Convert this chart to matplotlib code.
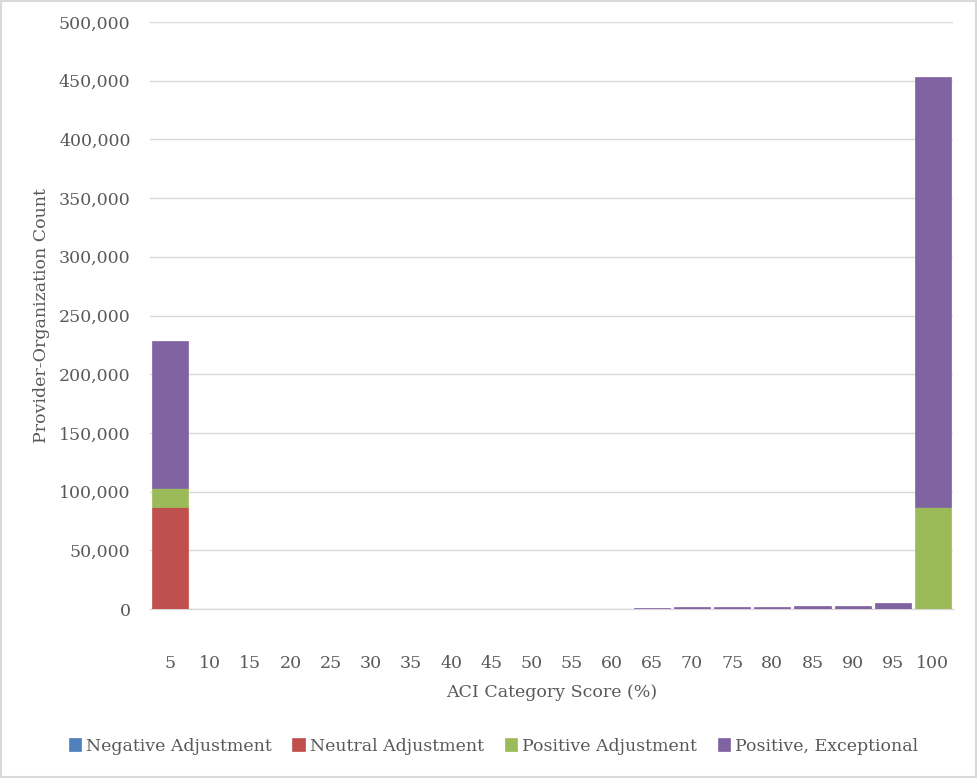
import matplotlib
matplotlib.use('Agg')
import matplotlib.pyplot as plt
from matplotlib.patches import Rectangle
import numpy as np

# ACI category score bins and counts per payment adjustment group
scores = [5, 10, 15, 20, 25, 30, 35, 40, 45, 50, 55, 60, 65, 70, 75, 80, 85, 90, 95, 100]
negative = [0] * 20
neutral = [87000, 0, 0, 0, 0, 0, 0, 0, 0, 0, 0, 0, 0, 0, 0, 0, 0, 0, 0, 0]
positive = [16000, 0, 0, 0, 0, 0, 0, 0, 0, 0, 0, 0, 0, 0, 0, 0, 0, 0, 0, 87000]
exceptional = [125000, 100, 100, 100, 100, 200, 300, 200, 200, 200, 300, 300,
               900, 1400, 1400, 2000, 2800, 2900, 4800, 366000]

series = [
    ('Negative Adjustment', negative, '#4f81bd'),
    ('Neutral Adjustment', neutral, '#c0504d'),
    ('Positive Adjustment', positive, '#9bbb59'),
    ('Positive, Exceptional', exceptional, '#8064a2'),
]

plt.rcParams['font.family'] = ['DejaVu Serif']
text_color = '#595959'
grid_color = '#d9d9d9'

fig = plt.figure(figsize=(9.77, 7.78), dpi=100)
ax = fig.add_axes([0.1535, 0.2172, 0.8219, 0.7545])

x = np.arange(len(scores))
bottom = np.zeros(len(scores))
for name, vals, color in series:
    vals = np.array(vals, dtype=float)
    ax.bar(x, vals, width=0.9, bottom=bottom, color=color, label=name,
           edgecolor=color, linewidth=0.5, zorder=3)
    bottom += vals

ax.set_xlim(-0.5, len(scores) - 0.5)
ax.set_ylim(0, 500000)
ax.set_yticks(np.arange(0, 500001, 50000))
ax.yaxis.set_major_formatter(matplotlib.ticker.FuncFormatter(lambda v, p: f'{int(v):,}'))
ax.set_xticks(x)
ax.set_xticklabels([str(s) for s in scores])

ax.grid(axis='y', color=grid_color, linewidth=1, zorder=0)
for side in ['top', 'right', 'left']:
    ax.spines[side].set_visible(False)
ax.spines['bottom'].set_color(grid_color)
ax.spines['bottom'].set_linewidth(1)
ax.tick_params(axis='both', length=0, labelsize=12.5, colors=text_color)
ax.tick_params(axis='x', pad=33)
ax.tick_params(axis='y', pad=14)

ax.set_xlabel('ACI Category Score (%)', fontsize=12.5, color=text_color, labelpad=9)
ax.set_ylabel('Provider-Organization Count', fontsize=12.5, color=text_color, labelpad=6)

leg = fig.legend(loc='center', bbox_to_anchor=(0.505, 0.041), ncol=4, frameon=False,
                 fontsize=12.5, handlelength=0.7, handleheight=0.7,
                 handletextpad=0.3, columnspacing=1.2)
for t in leg.get_texts():
    t.set_color(text_color)

# light chart-area border
fig.patches.append(Rectangle((0.001, 0.001), 0.998, 0.998, transform=fig.transFigure,
                             fill=False, edgecolor=grid_color, linewidth=1.5))

fig.savefig('out.png', dpi=100)
